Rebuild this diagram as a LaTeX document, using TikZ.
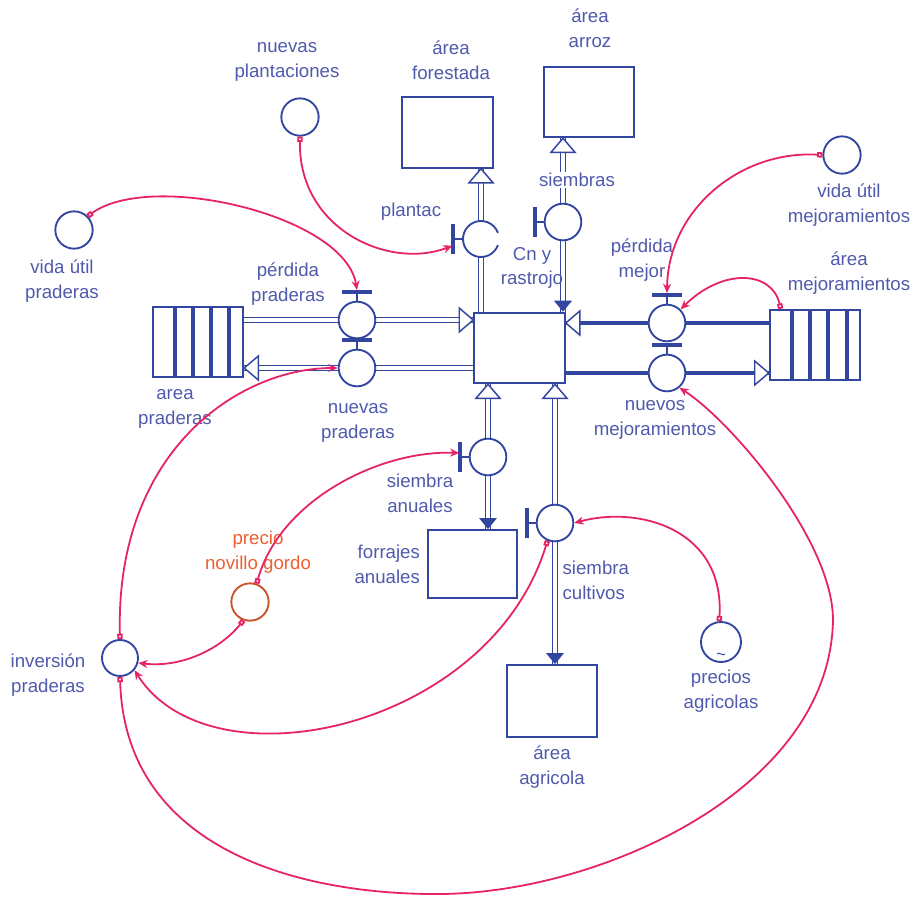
\documentclass[tikz,border=0pt]{standalone}
\usepackage{fontspec}
\setmainfont{Liberation Sans}
\usetikzlibrary{arrows.meta, positioning}

\definecolor{sdblue}{RGB}{50,70,160}
\definecolor{sdtext}{RGB}{80,90,172}
\definecolor{linkpink}{RGB}{230,35,100}
\definecolor{precorange}{RGB}{238,95,50}

\pgfdeclarelayer{pipes}
\pgfsetlayers{pipes,main}

\tikzset{
  stock/.style={draw=sdblue, line width=1.4pt, fill=white, minimum width=68pt, minimum height=53pt, inner sep=0pt},
  valve/.style={circle, draw=sdblue, line width=1.4pt, fill=white, minimum size=27.5pt, inner sep=0pt},
  aux/.style={circle, draw=sdblue, line width=1.4pt, fill=white, minimum size=28pt, inner sep=0pt},
  lbl/.style={text=sdtext, align=center, font=\fontsize{14}{18.5}\selectfont, inner sep=1pt},
  pipe/.style={draw=sdblue, double=white, double distance=2.4pt, line width=1.05pt},
  fatpipe/.style={draw=sdblue, line width=2.7pt},
  link/.style={draw=linkpink, line width=1.35pt, {Square[open,length=4pt,width=4pt]}-{Stealth[length=7pt,width=6pt]}},
  tbar/.pic={\draw[sdblue, line width=1.2pt] (0,0) -- (0,-9); \draw[sdblue, line width=3pt] (-15,-9) -- (15,-9);},
  ohead/.pic={\filldraw[draw=sdblue, line width=1.1pt, fill=white] (0,0) -- (-14,-12) -- (-14,12) -- cycle;},
  fhead/.pic={\fill[sdblue] (0,0) -- (-11,-9) -- (-11,9) -- cycle;},
}

\begin{document}
\begin{tikzpicture}[x=0.75pt, y=-0.75pt]
  \useasboundingbox (0,0) rectangle (915,897);

  % stocks
  \node[stock] (cn) at (519.5,348) {};
  \node[stock] (forest) at (447.5,132.5) {};
  \node[stock] (arroz) at (589,102) {};
  \node[stock, minimum width=67pt, minimum height=51pt] (forraje) at (472.5,564) {};
  \node[stock, minimum height=54pt] (agric) at (552,701) {};
  \node[stock] (prad) at (198,342) {};
  \node[stock] (mejo) at (815,345) {};
  \foreach \x in {175,193,211,229}
    \draw[sdblue, line width=2.4pt] (\x,308) -- (\x,376);
  \foreach \x in {792,810,828,847}
    \draw[sdblue, line width=2.4pt] (\x,311) -- (\x,379);

  % valves
  \node[valve] (vperdp) at (357,320) {};
  \node[valve] (vnuevp) at (357,368) {};
  \node[valve] (vperdm) at (667,323) {};
  \node[valve] (vnuevm) at (667,373) {};
  \node[valve, draw=none] (vplant) at (481,239) {};
  \node[valve] (vsiemb) at (563,222) {};
  \node[valve] (vanual) at (488,457) {};
  \node[valve] (vcult) at (555,523) {};
  \draw[sdblue, line width=1.4pt] (vplant) ++(20:18) arc[start angle=20, end angle=340, radius=18];

  \pic at (vperdp.north) {tbar};
  \pic at (vnuevp.north) {tbar};
  \pic at (vperdm.north) {tbar};
  \pic at (vnuevm.north) {tbar};
  \pic[rotate=90] at (vplant.west) {tbar};
  \pic[rotate=90] at (vsiemb.west) {tbar};
  \pic[rotate=90] at (vanual.west) {tbar};
  \pic[rotate=90] at (vcult.west) {tbar};

  % pipes
  \begin{pgfonlayer}{pipes}
    \draw[pipe] (prad.east |- vperdp) -- (cn.west |- vperdp);
    \draw[pipe] (cn.west |- vnuevp) -- (prad.east |- vnuevp);
    \draw[fatpipe] (mejo.west |- vperdm) -- (cn.east |- vperdm);
    \draw[fatpipe] (cn.east |- vnuevm) -- (mejo.west |- vnuevm);
    \draw[pipe] (vplant |- cn.north) -- (vplant |- forest.south);
    \draw[pipe] (vsiemb |- cn.north) -- (vsiemb |- arroz.south);
    \draw[pipe] (vanual |- cn.south) -- (vanual |- forraje.north);
    \draw[pipe] (vcult |- cn.south) -- (vcult |- agric.north);
  \end{pgfonlayer}

  \pic at (cn.west |- vperdp) {ohead};
  \pic[rotate=180] at (prad.east |- vnuevp) {ohead};
  \pic[rotate=180] at (cn.east |- vperdm) {ohead};
  \pic at (mejo.west |- vnuevm) {ohead};
  \pic[rotate=90] at (vplant |- forest.south) {ohead};
  \pic[rotate=90] at (vsiemb |- arroz.south) {ohead};
  \pic[rotate=90] at (vanual |- cn.south) {ohead};
  \pic[rotate=90] at (vcult |- cn.south) {ohead};
  \pic[rotate=-90] at (vsiemb |- cn.north) {fhead};
  \pic[rotate=-90] at (vanual |- forraje.north) {fhead};
  \pic[rotate=-90] at (vcult |- agric.north) {fhead};

  % auxiliaries
  \node[aux] (anplant) at (300,117) {};
  \node[aux] (avidap) at (74,230) {};
  \node[aux] (avidam) at (842,155) {};
  \node[aux, draw=precorange!85!black] (aprecio) at (250,602) {};
  \node[aux, minimum size=27pt] (ainver) at (120,658) {};
  \node[aux, minimum size=30pt] (apreag) at (721,642) {};
  \draw[sdblue, line width=0.7pt] ([shift={(-4,12)}]apreag.center) .. controls +(2,-3) and +(-2,3) .. +(8,0);

  % labels
  \node[lbl] (lforest) at (451,60) {área\\forestada};
  \node[lbl] (larroz) at (590,28) {área\\arroz};
  \node[lbl] (lnplant) at (287,62) {nuevas\\plantaciones};
  \node[lbl] (lvidap) at (62,281) {vida útil\\praderas};
  \node[lbl] (lperdp) at (288,284) {pérdida\\praderas};
  \node[lbl] (lplant) at (411,212) {plantac};
  \node[lbl] (lcn) at (532,268) {Cn y\\rastrojo};
  \node[lbl, fill=white] (lsiemb) at (577,180) {siembras};
  \node[lbl] (lperdm) at (642,260) {pérdida\\mejor};
  \node[lbl] (lvidam) at (849,205) {vida útil\\mejoramientos};
  \node[lbl] (lmejo) at (849,273) {área\\mejoramientos};
  \node[lbl] (lprad) at (175,409) {area\\praderas};
  \node[lbl] (lnuevp) at (358,423) {nuevas\\praderas};
  \node[lbl] (lnuevm) at (655,420) {nuevos\\mejoramientos};
  \node[lbl] (lanual) at (420,493) {siembra\\anuales};
  \node[lbl, align=right, left=4pt of forraje] (lforr) {forrajes\\anuales};
  \node[lbl, align=left, anchor=west] (lcult) at (561,580) {siembra\\cultivos};
  \node[lbl, text=precorange] (lprecio) at (258,552) {precio\\novillo gordo};
  \node[lbl] (linver) at (48,675) {inversión\\praderas};
  \node[lbl, below=4pt of apreag] (lpreag) {precios\\agricolas};
  \node[lbl, below=5pt of agric] (lagric) {área\\agricola};

  % links
  \draw[link] (avidap.north east) .. controls (150,170) and (345,215) .. ([yshift=8pt]vperdp.north);
  \draw[link] (anplant.south) .. controls (298,230) and (390,270) .. ([xshift=-7pt,yshift=-5pt]vplant.west);
  \draw[link] (avidam.west) .. controls (740,150) and (668,210) .. ([yshift=8pt]vperdm.north);
  \draw[link] ([xshift=9pt]mejo.north west) .. controls (772,270) and (722,268) .. (vperdm.north east);
  \draw[link] (ainver.north) .. controls (115,450) and (240,368) .. (vnuevp.west);
  \draw[link] (aprecio.70) .. controls (280,500) and (380,450) .. ([xshift=-7pt,yshift=3pt]vanual.west);
  \draw[link] (aprecio.250) .. controls (220,650) and (180,668) .. (ainver.-15);
  \draw[link] (vcult.247) .. controls (490,730) and (210,790) .. (ainver.-40);
  \draw[link] (apreag.95) .. controls (725,530) and (640,505) .. (vcult.east);
  \draw[link] (ainver.south) .. controls (125,850) and (300,895) .. (440,894)
    .. controls (600,893) and (830,790) .. (833,620)
    .. controls (833,540) and (730,420) .. (vnuevm.-50);
\end{tikzpicture}
\end{document}
